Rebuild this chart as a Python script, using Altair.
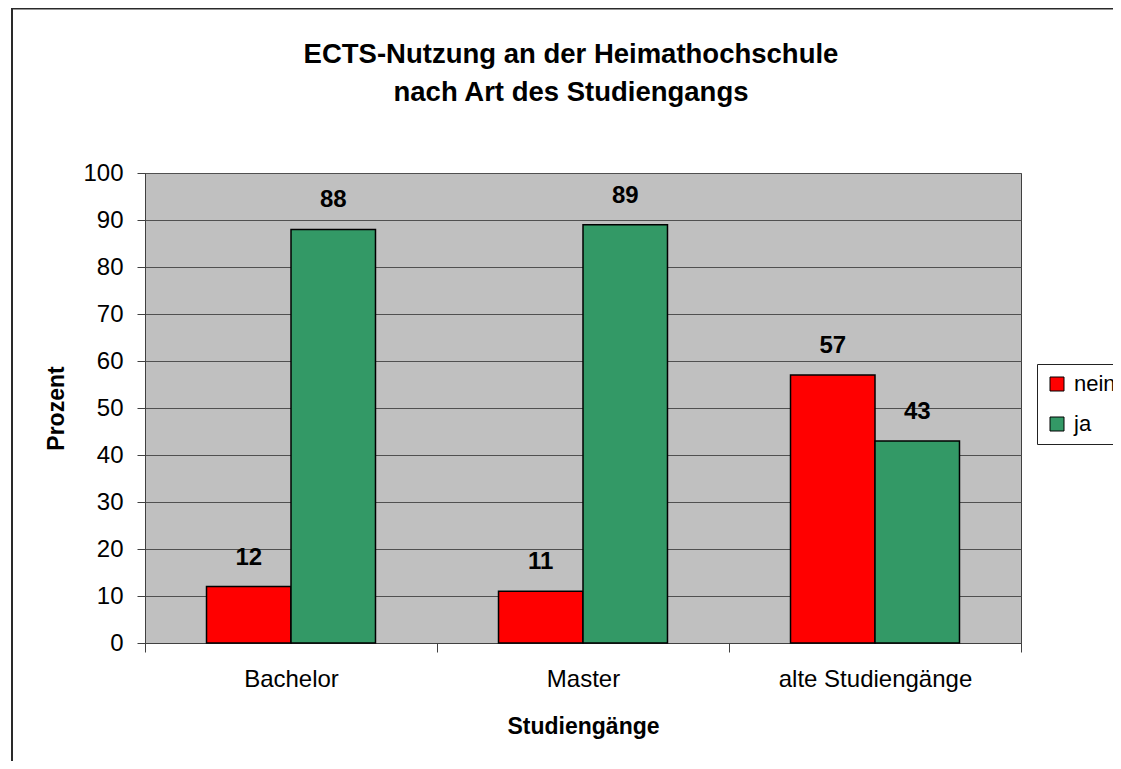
import altair as alt
import pandas as pd

categories = ["Bachelor", "Master", "alte Studiengänge"]
series = ["nein", "ja"]
series_colors = ["#FF0000", "#339966"]
nein_values = [12, 11, 57]
ja_values = [88, 89, 43]
y_ticks = [0, 10, 20, 30, 40, 50, 60, 70, 80, 90, 100]
title_lines = ["ECTS-Nutzung an der Heimathochschule", "nach Art des Studiengangs"]
x_title = "Studiengänge"
y_title = "Prozent"

rows = []
for c, n, j in zip(categories, nein_values, ja_values):
    rows.append({"cat": c, "series": "nein", "value": n})
    rows.append({"cat": c, "series": "ja", "value": j})
df = pd.DataFrame(rows)

W, H = 876, 470
FONT = "Liberation Sans"

x_enc = alt.X(
    "cat:N", sort=categories,
    scale=alt.Scale(paddingInner=0, paddingOuter=0),
    axis=alt.Axis(title=x_title, labelAngle=0, tickBand="extent", tickSize=9,
                  labelPadding=15, labelFontSize=24, labelLimit=0, titleFontSize=23,
                  titleFontWeight="bold", titleBaseline="alphabetic", titleY=90,
                  domainColor="#404040", tickColor="#404040", grid=False),
)
xo_enc = alt.XOffset("series:N", sort=series,
                     scale=alt.Scale(paddingInner=0, paddingOuter=0.728))
y_enc = alt.Y(
    "value:Q",
    scale=alt.Scale(domain=[0, 100], nice=False),
    axis=alt.Axis(title=y_title, values=y_ticks, tickSize=8, labelPadding=14,
                  labelFontSize=24, titleFontSize=23, titleFontWeight="bold",
                  titleAngle=-90, titleBaseline="alphabetic", titleX=-82,
                  titleY=H / 2, grid=True, gridColor="#505050", gridOpacity=1,
                  domainColor="#404040", tickColor="#404040"),
)

frame = alt.Chart(alt.Data(values=[{}])).mark_rect(
    fillOpacity=0, stroke="#2a2a2a", strokeWidth=2
).encode(
    x=alt.value(-133), x2=alt.value(1100), y=alt.value(-164.5), y2=alt.value(700)
)

bars = alt.Chart(df).mark_bar(stroke="black", strokeWidth=1.5).encode(
    x=x_enc, xOffset=xo_enc, y=y_enc,
    fill=alt.Fill("series:N", sort=series,
                  scale=alt.Scale(domain=series, range=series_colors),
                  legend=alt.Legend(title=None, orient="none", legendX=892, legendY=191,
                                    strokeColor="#222222", fillColor="white", padding=9,
                                    rowPadding=18, symbolType="square", symbolSize=196,
                                    symbolStrokeColor="black", symbolStrokeWidth=1,
                                    labelFontSize=22, labelOffset=6, labelFont=FONT,
                                    labelLimit=0)),
)

labels = alt.Chart(df).mark_text(
    dy=-22, baseline="alphabetic", fontWeight="bold", fontSize=24, font=FONT, color="black"
).encode(
    x=alt.X("cat:N", sort=categories), xOffset=alt.XOffset("series:N", sort=series),
    y="value:Q", text="value:Q"
)

t1 = alt.Chart(alt.Data(values=[{}])).mark_text(
    text=title_lines[0], fontSize=27.5, fontWeight="bold", font=FONT, align="center",
    baseline="alphabetic", color="black"
).encode(x=alt.value(426), y=alt.value(-110))
t2 = alt.Chart(alt.Data(values=[{}])).mark_text(
    text=title_lines[1], fontSize=27.5, fontWeight="bold", font=FONT, align="center",
    baseline="alphabetic", color="black"
).encode(x=alt.value(426), y=alt.value(-72))

chart = alt.layer(frame, bars, labels, t1, t2).properties(
    width=W, height=H,
    autosize=alt.AutoSizeParams(type="none"),
    padding={"left": 137, "top": 165, "right": 92, "bottom": 118},
    background="white",
).configure(font=FONT).configure_view(
    fill="#C0C0C0", stroke="#404040", strokeWidth=1
).configure_axis(
    labelFont=FONT, titleFont=FONT, labelColor="black", titleColor="black"
)

chart.save("out.html", embed_options={"renderer": "svg", "actions": False})
